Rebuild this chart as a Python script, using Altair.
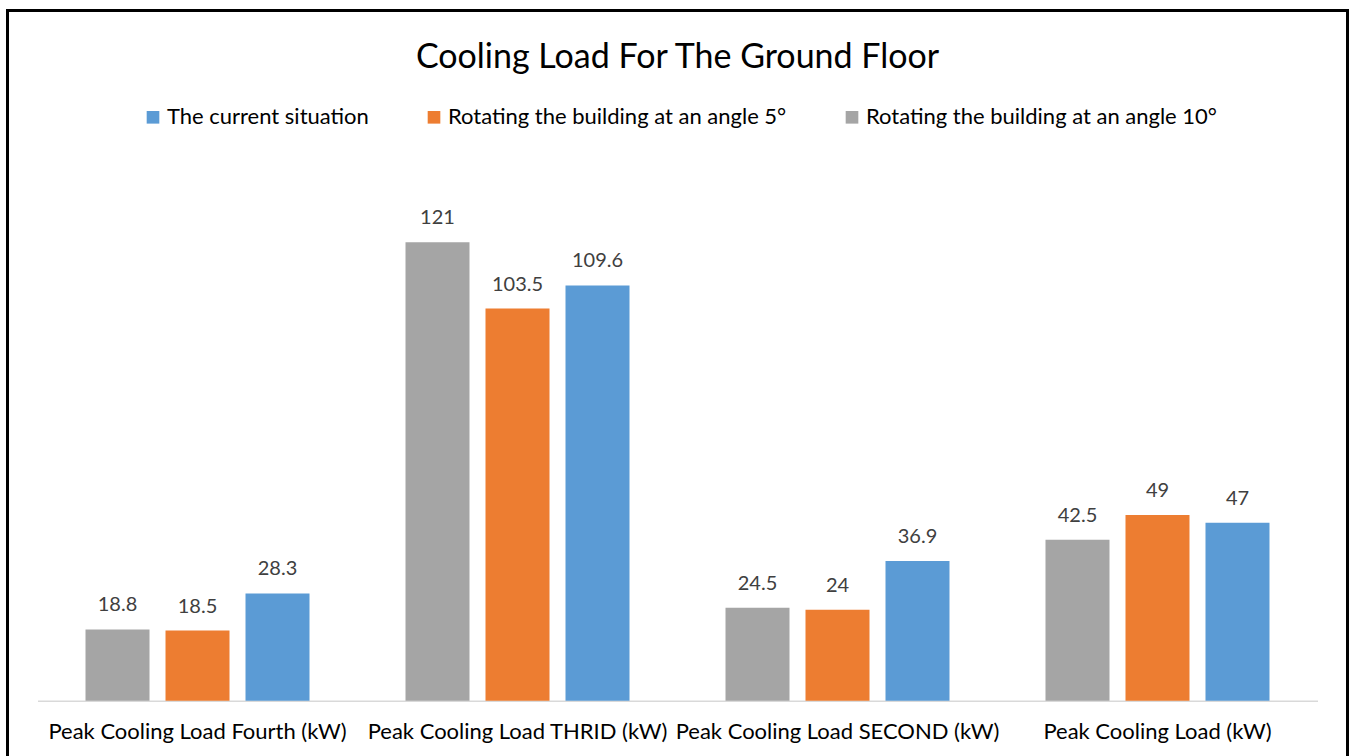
import altair as alt
import pandas as pd

# Floors (x categories) and the three scenarios
categories = [
    "Peak Cooling Load Fourth (kW)",
    "Peak Cooling Load THRID (kW)",
    "Peak Cooling Load SECOND (kW)",
    "Peak Cooling Load (kW)",
]
series_names = [
    "The current situation",
    "Rotating the building at an angle 5°",
    "Rotating the building at an angle 10°",
]
current = [28.3, 109.6, 36.9, 47]
rot_5 = [18.5, 103.5, 24, 49]
rot_10 = [18.8, 121, 24.5, 42.5]
colors = ["#5B9BD5", "#ED7D31", "#A5A5A5"]

rows = []
for name, vals in zip(series_names, [current, rot_5, rot_10]):
    for cat, v in zip(categories, vals):
        rows.append({"floor": cat, "scenario": name, "load": v})
df = pd.DataFrame(rows)

FONT = "Lato"
W, H = 1280, 530.4
bar_order = [series_names[2], series_names[1], series_names[0]]

x_enc = alt.X(
    "floor:N",
    sort=categories,
    scale=alt.Scale(paddingInner=0.3, paddingOuter=0.15),
    axis=alt.Axis(
        title=None,
        labelAngle=0,
        labelFontSize=22,
        labelColor="#000000",
        labelPadding=21,
        labelLimit=0,
        ticks=False,
        domainColor="#D9D9D9",
        domainWidth=1.5,
        grid=False,
    ),
)
xoff_enc = alt.XOffset(
    "scenario:N", sort=bar_order, scale=alt.Scale(paddingInner=0.2, paddingOuter=0)
)
y_enc = alt.Y("load:Q", scale=alt.Scale(domain=[0, 140], nice=False), axis=None)

bars = alt.Chart(df).mark_bar().encode(
    x=x_enc,
    xOffset=xoff_enc,
    y=y_enc,
    color=alt.Color(
        "scenario:N",
        scale=alt.Scale(domain=series_names, range=colors),
        legend=alt.Legend(
            title=None,
            orient="none",
            direction="horizontal",
            legendX=104.5,
            legendY=-64,
            symbolType="square",
            symbolSize=160,
            symbolStrokeWidth=0,
            symbolOpacity=1,
            labelFontSize=22,
            labelColor="#000000",
            labelOffset=3,
            labelLimit=0,
            columnPadding=54,
        ),
    ),
)

labels = alt.Chart(df).mark_text(
    baseline="alphabetic", dy=-18, fontSize=20, color="#404040", font=FONT
).encode(
    x=x_enc,
    xOffset=xoff_enc,
    y=y_enc,
    text=alt.Text("load:Q", format=".1~f"),
)

# Outer frame around the whole chart
frame = alt.Chart(df).mark_rect(
    filled=False, stroke="#000000", strokeWidth=2.5, clip=False
).encode(
    x=alt.value(-30),
    x2=alt.value(1310),
    y=alt.value(-160),
    y2=alt.value(610),
)

chart = (
    alt.layer(frame, bars, labels)
    .properties(
        width=W,
        height=H,
        title=alt.TitleParams(
            "Cooling Load For The Ground Floor",
            fontSize=34,
            font=FONT,
            fontWeight="normal",
            color="#000000",
            anchor="middle",
            offset=-66,
        ),
        autosize=alt.AutoSizeParams(type="none"),
        padding={"left": 37.5, "top": 170.3, "right": 33, "bottom": 55},
    )
    .configure(font=FONT)
    .configure_view(stroke=None)
)

chart.save("out.html", embed_options={"renderer": "svg", "actions": False})
